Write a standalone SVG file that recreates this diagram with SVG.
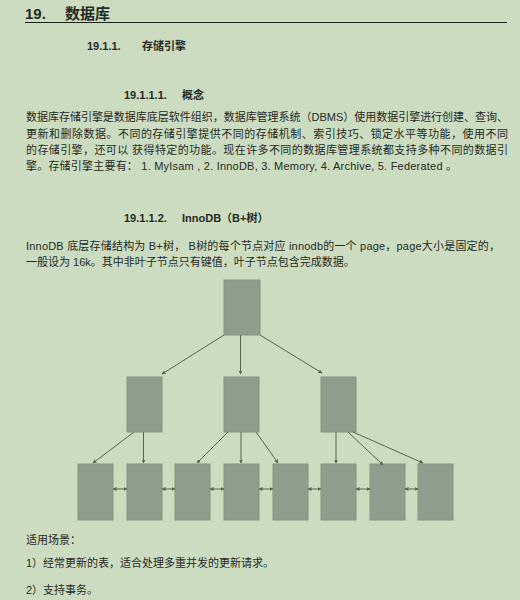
<svg xmlns="http://www.w3.org/2000/svg" width="520" height="600" viewBox="0 0 520 600">
<style>
.t{font-family:"Liberation Sans","Noto Sans CJK SC",sans-serif;fill:#262a24}
.p{font-size:11px}
.h1{font-size:15px;font-weight:bold}
.h2{font-size:11px;font-weight:bold}
.n{fill:#8e9e8c;stroke:#84947f;stroke-width:1}
.c line{stroke:#56664f;stroke-width:1}
.e{marker-end:url(#ah)}
.b{marker-start:url(#ahs);marker-end:url(#ah)}
</style>
<defs>
<marker id="ah" markerWidth="4" markerHeight="4" refX="3.5" refY="2" orient="auto" markerUnits="userSpaceOnUse"><path d="M0,0 L4,2 L0,4 Z" fill="#56664f"/></marker>
<marker id="ahs" markerWidth="4" markerHeight="4" refX="0.5" refY="2" orient="auto" markerUnits="userSpaceOnUse"><path d="M4,0 L0,2 L4,4 Z" fill="#56664f"/></marker>
</defs>
<rect x="0" y="0" width="520" height="600" fill="#cbdcc1"/>
<g id="headings">
<text class="t h1" x="25" y="19">19.</text>
<text class="t h1" x="65" y="19">数据库</text>
<line x1="25" y1="22.5" x2="507" y2="22.5" stroke="#1e231c" stroke-width="1.2"/>
<text class="t h2" x="87" y="50">19.1.1.</text>
<text class="t h2" x="142" y="50">存储引擎</text>
<text class="t h2" x="124" y="99">19.1.1.1.</text>
<text class="t h2" x="182" y="99">概念</text>
<text class="t h2" x="124" y="222">19.1.1.2.</text>
<text class="t h2" x="182" y="222">InnoDB（B+树）</text>
</g>
<g id="para1">
<text class="t p" x="26" y="121" textLength="482" lengthAdjust="spacing">数据库存储引擎是数据库底层软件组织，数据库管理系统（DBMS）使用数据引擎进行创建、查询、</text>
<text class="t p" x="26" y="137.5" textLength="482" lengthAdjust="spacing">更新和删除数据。不同的存储引擎提供不同的存储机制、索引技巧、锁定水平等功能，使用不同</text>
<text class="t p" x="26" y="154" textLength="482" lengthAdjust="spacing">的存储引擎，还可以 获得特定的功能。现在许多不同的数据库管理系统都支持多种不同的数据引</text>
<text class="t p" x="26" y="170" textLength="431" lengthAdjust="spacing">擎。存储引擎主要有： 1. MyIsam , 2. InnoDB, 3. Memory, 4. Archive, 5. Federated 。</text>
</g>
<g id="para2">
<text class="t p" x="26" y="250" textLength="474" lengthAdjust="spacing">InnoDB 底层存储结构为 B+树， B树的每个节点对应 innodb的一个 page，page大小是固定的，</text>
<text class="t p" x="26" y="266">一般设为 16k。其中非叶子节点只有键值，叶子节点包含完成数据。</text>
</g>
<g id="root"><rect class="n" x="224" y="280" width="36" height="55"/></g>
<g id="mid1"><rect class="n" x="127" y="377" width="35" height="55"/></g>
<g id="mid2"><rect class="n" x="224" y="377" width="35" height="55"/></g>
<g id="mid3"><rect class="n" x="321" y="377" width="35" height="55"/></g>
<g id="leaf1"><rect class="n" x="78" y="464" width="35" height="56"/></g>
<g id="leaf2"><rect class="n" x="127" y="464" width="35" height="56"/></g>
<g id="leaf3"><rect class="n" x="175" y="464" width="35" height="56"/></g>
<g id="leaf4"><rect class="n" x="224" y="464" width="35" height="56"/></g>
<g id="leaf5"><rect class="n" x="273" y="464" width="35" height="56"/></g>
<g id="leaf6"><rect class="n" x="321" y="464" width="35" height="56"/></g>
<g id="leaf7"><rect class="n" x="370" y="464" width="35" height="56"/></g>
<g id="leaf8"><rect class="n" x="418" y="464" width="35" height="56"/></g>
<g id="connectors" class="c">
<line class="e" x1="224" y1="335" x2="162" y2="374"/>
<line class="e" x1="240.5" y1="335" x2="240.5" y2="374"/>
<line class="e" x1="260" y1="335" x2="322" y2="373"/>
<line class="e" x1="134" y1="432" x2="93" y2="463"/>
<line class="e" x1="143.5" y1="432" x2="143.5" y2="463"/>
<line class="e" x1="228" y1="432" x2="197" y2="463"/>
<line class="e" x1="241" y1="432" x2="241" y2="463"/>
<line class="e" x1="256" y1="432" x2="278" y2="463"/>
<line class="e" x1="336" y1="432" x2="336" y2="463"/>
<line class="e" x1="348" y1="432" x2="383" y2="465"/>
<line class="e" x1="353" y1="432" x2="423" y2="463"/>
<line class="b" x1="113" y1="489" x2="127" y2="489"/>
<line class="b" x1="162" y1="489" x2="175" y2="489"/>
<line class="b" x1="210" y1="489" x2="224" y2="489"/>
<line class="b" x1="259" y1="489" x2="273" y2="489"/>
<line class="b" x1="308" y1="489" x2="321" y2="489"/>
<line class="b" x1="356" y1="489" x2="370" y2="489"/>
<line class="b" x1="405" y1="489" x2="418" y2="489"/>
</g>
<g id="usage">
<text class="t p" x="26" y="544">适用场景：</text>
<text class="t p" x="26" y="567">1）经常更新的表，适合处理多重并发的更新请求。</text>
<text class="t p" x="26" y="594">2）支持事务。</text>
</g>
</svg>
